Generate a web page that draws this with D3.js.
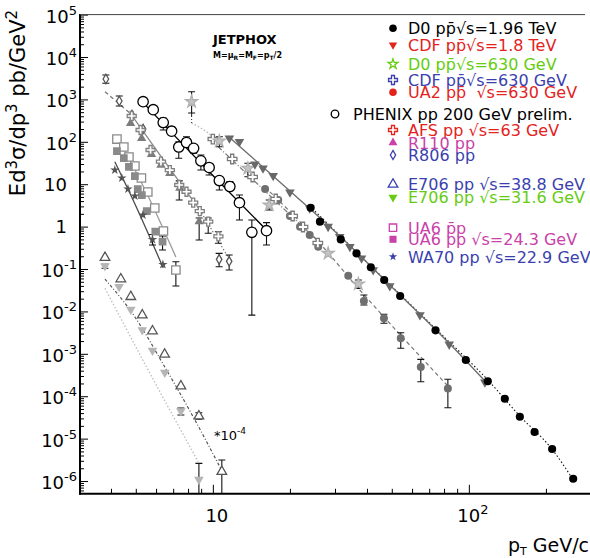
<!DOCTYPE html>
<html>
<head>
<meta charset="utf-8">
<script src="https://cdn.jsdelivr.net/npm/d3@7"></script>
<style>
  body { margin: 0; background: #fff; }
  svg { display: block; }
</style>
</head>
<body>
<svg id="chart" width="590" height="558"></svg>
<script>
// ---------- measured cross sections: pT in GeV/c, Ed3σ/dp3 in pb/GeV² ----------
const d0_1960_pt  = [24.1, 26.2, 31.6, 36.4, 41.4, 46.7, 53.9, 74.1, 97.3, 118.6, 138.2, 158.2, 180.6, 211.5, 255.6];
const d0_1960_val = [2.79, 1.31, 0.50, 0.234, 0.110, 0.055, 0.0231, 3.58e-3, 7.14e-4, 2.25e-4, 8.7e-5, 3.29e-5, 1.43e-5, 5.69e-6, 1.13e-6];

const cdf_1800_pt  = [11.6, 12.7, 14.6, 15.7, 17.2, 20.0, 23.9, 28.2, 31.3, 34.3, 38.1, 42.3, 49.1, 64.4, 83.8, 115.5];
const cdf_1800_val = [121, 100, 29.5, 23.7, 15.9, 6.44, 2.70, 1.0, 0.578, 0.336, 0.179, 0.0947, 0.0397, 8.22e-3, 1.67e-3, 2.13e-4];

const d0_630_pt    = [8.26, 10.6, 13.7, 16.6, 28.2, 37.0];
const d0_630_val   = [883, 104, 23.7, 3.23, 0.234, 0.0443];
const d0_630_lo    = [477, 76.6, 15.0, 2.47, null, 0.035];
const d0_630_hi    = [1520, 132, 31.1, 4.24, null, 0.055];

const cdf_630_pt   = [10.0, 11.9, 14.3, 17.6, 20.5, 22.5, 25.7];
const cdf_630_val  = [116, 39.3, 14.8, 4.48, 1.78, 0.98, 0.41];

const ua2_630_pt   = [16.0, 18.0, 20.0, 21.9, 23.9, 25.8, 33.8, 38.9, 46.6, 54.2, 64.9, 82.8];
const ua2_630_val  = [7.71, 4.24, 1.78, 0.995, 0.634, 0.336, 0.0695, 0.0176, 6.87e-3, 2.32e-3, 4.89e-4, 1.53e-4];
const ua2_630_lo   = [null, null, null, null, null, null, null, 0.0142, 5.27e-3, 1.35e-3, 2.20e-4, 5.36e-5];
const ua2_630_hi   = [null, null, null, null, null, null, null, 0.0244, 8.55e-3, 3.15e-3, 7.41e-4, 2.51e-4];

const phenix_pt    = [5.34, 5.85, 6.40, 6.90, 7.36, 7.89, 8.41, 8.98, 9.67, 10.6, 11.65, 12.7, 14.2, 16.2];
const phenix_val   = [883, 571, 285, 178, 75.4, 96.3, 70.3, 35.6, 24.8, 12.2, 8.83, 3.66, 0.734, 0.80];
const phenix_lo    = [null, null, 190, 145, 40.8, 76.6, 53.6, 21.6, 16.5, 7.3, 7.3, 1.43, 8.2e-3, 0.368];
const phenix_hi    = [null, null, 364, 227, 100, 132, 79.6, 48.9, 28.4, 15.0, 11.5, 5.56, 1.43, 1.24];

const afs_pt       = [4.82, 5.22, 5.71, 6.27, 6.79, 7.39, 7.89, 8.38, 8.89, 9.59, 10.51];
const afs_val      = [406, 190, 64.1, 34.0, 21.6, 9.57, 6.65, 3.66, 2.33, 1.31, 0.590];
const afs_lo       = [null, null, null, null, null, 4.24, null, null, null, 0.695, 0.404];
const afs_hi       = [null, null, null, null, null, 12, null, null, null, 1.6, 0.758];

const r110_pt      = [4.77, 5.27, 5.76, 6.27, 6.79, 7.43, 8.84];
const r110_val     = [273, 121, 50.7, 28.4, 18.1, 8.13, 1.31];
const r110_lo      = [null, null, null, null, null, null, 0.483];
const r110_hi      = [null, null, null, null, null, null, 1.60];

const r806_pt      = [3.82, 4.31, 4.83, 5.34, 10.58, 11.58];
const r806_val     = [3027, 916, 428, 200, 0.169, 0.152];
const r806_lo      = [2399, 699, null, null, 0.113, 0.0947];
const r806_hi      = [3763, 1202, null, null, 0.234, 0.214];

const ua6_pbarp_pt  = [4.22, 4.49, 4.70, 4.96, 5.26, 5.57, 5.93, 6.41, 7.17];
const ua6_pbarp_val = [116, 75.4, 43.8, 26.9, 14.0, 6.55, 2.75, 0.787, 0.0947];
const ua6_pbarp_lo  = [null, null, null, null, null, null, null, null, 0.0397];
const ua6_pbarp_hi  = [null, null, null, null, null, null, null, null, 0.149];

const ua6_pp_pt    = [4.22, 4.49, 4.70, 4.96, 5.09, 5.28, 5.52, 5.96, 6.36];
const ua6_pp_val   = [60.7, 41.5, 25.5, 15.6, 7.71, 5.56, 2.33, 0.766, 0.441];
const ua6_pp_lo    = [null, null, null, null, null, null, null, null, 0.28];
const ua6_pp_hi    = [null, null, null, null, null, null, null, null, 0.6];

const wa70_pt      = [4.14, 4.41, 4.66, 4.96, 5.33, 5.81, 6.38];
const wa70_val     = [21.6, 14.0, 7.71, 5.27, 1.88, 0.497, 0.128];
const wa70_lo      = [null, null, null, null, null, 0.368, null];
const wa70_hi      = [null, null, null, null, null, 0.65, null];

// E706 points are drawn scaled by 10^-4
const e706Scale    = 1e-4;
const e706_388_pt  = [3.79, 4.37, 4.78, 5.30, 5.81, 6.48, 7.50, 8.82, 10.84];
const e706_388_val = [1866, 581, 222, 82.2, 34.5, 9.73, 1.74, 0.341, 0.0167];
const e706_388_lo  = [null, null, null, null, null, null, null, 0.287, 0.0001];
const e706_388_hi  = [null, null, null, null, null, null, null, 0.408, 0.0313];

const e706_316_pt  = [3.79, 4.30, 4.78, 5.30, 5.81, 6.49, 7.50, 8.82];
const e706_316_val = [1178, 383, 111, 36.4, 12.0, 3.62, 0.448, 0.0108];
const e706_316_lo  = [1040, null, null, null, null, null, 0.36, 0.0001];
const e706_316_hi  = [1300, null, null, null, null, null, 0.527, 0.0261];

// ---------- JETPHOX NLO curves ----------
const th_d0_1960_pt   = [23.9, 41.4, 74.3, 118.6, 158.2, 211, 254.7];
const th_d0_1960_val  = [3.06, 0.118, 3.85e-3, 2.41e-4, 3.41e-5, 5.69e-6, 1.11e-6];
const th_cdf_1800_pt  = [11.45, 20.0, 31.3, 49.1, 83.6, 117.5];
const th_cdf_1800_val = [137, 6.92, 0.600, 0.042, 1.80e-3, 2.05e-4];
const th_d0_630a_pt   = [8.26, 8.26];
const th_d0_630a_val  = [477, 277];
const th_d0_630b_pt   = [8.26, 10.0, 10.46];
const th_d0_630b_val  = [277, 130, 98.9];
const th_cdf_630_pt   = [10.49, 25.7];
const th_cdf_630_val  = [76.6, 0.457];
const th_ua2_630_pt   = [15.96, 23.9, 37.5, 82.8];
const th_ua2_630_val  = [8.59, 0.746, 0.032, 1.74e-4];
const th_phenix_pt    = [5.3, 10, 16.3];
const th_phenix_val   = [880, 16, 0.8];
const th_r806_pt      = [3.79, 4.74];
const th_r806_val     = [1520, 477];
const th_afs_pt       = [4.74, 6.21, 8.89];
const th_afs_val      = [490, 48.9, 2.47];
const th_afs_tail_pt  = [8.89, 11.45];
const th_afs_tail_val = [2.47, 0.195];
const th_wa70_pt      = [4.14, 4.88, 6.40];
const th_wa70_val     = [34.0, 4.24, 0.106];
const th_ua6_pt       = [4.30, 5.51, 7.17];
const th_ua6_val      = [110, 6.2, 0.192];
const th_e706_388_pt  = [3.79, 4.96, 6.49, 8.51, 10.81];
const th_e706_388_val = [581, 73.8, 4.89, 0.275, 0.0182];
const th_e706_316_pt  = [3.79, 5.43, 8.76];
const th_e706_316_val = [351, 5.74, 0.0285];

// ---------- axis ticks and legend text ----------
const yTickExps  = [5, 4, 3, 2, 1, 0, -1, -2, -3, -4, -5, -6];
const xTickExps  = [1, 2];
const legendLabels = [
  "D0 pp\u0304\u221as=1.96 TeV",
  "CDF pp\u0304\u221as=1.8 TeV",
  "D0 pp\u0304\u221as=630 GeV",
  "CDF pp\u0304\u221as=630 GeV",
  "UA2 pp\u0304  \u221as=630 GeV",
  "PHENIX pp 200 GeV prelim.",
  "AFS pp \u221as=63 GeV",
  "R110 pp",
  "R806 pp",
  "E706 pp \u221as=38.8 GeV",
  "E706 pp \u221as=31.6 GeV",
  "UA6 p\u0304p",
  "UA6 pp \u221as=24.3 GeV",
  "WA70 pp \u221as=22.9 GeV"
];

// ---------- drawing ----------
const FONT = "DejaVu Sans, Verdana, sans-serif";
const RED = "#e3231c", GREEN = "#66cc11", BLUE = "#3b3fae", MAG = "#c942a8";

const svg = d3.select("#chart");
const x = d3.scaleLog().domain([3, 300]).range([79, 591]);
const y = d3.scaleLog().domain([5e-7, 1e5]).range([493.8, 14.6]);

svg.append("defs").append("clipPath").attr("id", "plotArea")
  .append("rect").attr("x", 80).attr("y", 14.6).attr("width", 511).attr("height", 479.2);
const plot = svg.append("g").attr("clip-path", "url(#plotArea)");

const zip = (pt, val, k = 1) => pt.map((p, i) => [p, val[i] * k]);

// NLO curves
const curves = [
  {d: zip(th_d0_1960_pt, th_d0_1960_val), c: "#111", w: 1.1, dash: "1.5,2.2"},
  {d: zip(th_cdf_1800_pt, th_cdf_1800_val), c: "#6f6f6f", w: 1.4, dash: null},
  {d: zip(th_d0_630a_pt, th_d0_630a_val), c: "#333", w: 1.1, dash: "4,2,1,2"},
  {d: zip(th_d0_630b_pt, th_d0_630b_val), c: "#b8b8b8", w: 1.3, dash: "1.5,2"},
  {d: zip(th_cdf_630_pt, th_cdf_630_val), c: "#7a7a7a", w: 1.2, dash: "5,2,1,2"},
  {d: zip(th_ua2_630_pt, th_ua2_630_val), c: "#7a7a7a", w: 1.2, dash: "4,3"},
  {d: zip(th_phenix_pt, th_phenix_val), c: "#000", w: 1.4, dash: null},
  {d: zip(th_r806_pt, th_r806_val), c: "#777", w: 1.3, dash: "4,3"},
  {d: zip(th_afs_pt, th_afs_val), c: "#8a8a8a", w: 1.3, dash: null},
  {d: zip(th_afs_tail_pt, th_afs_tail_val), c: "#777", w: 1.2, dash: "1.5,2"},
  {d: zip(th_wa70_pt, th_wa70_val), c: "#4a4a4a", w: 1.3, dash: null},
  {d: zip(th_ua6_pt, th_ua6_val), c: "#9a9a9a", w: 1.3, dash: null},
  {d: zip(th_e706_388_pt, th_e706_388_val, e706Scale), c: "#555", w: 1.2, dash: "3,2,1,2"},
  {d: zip(th_e706_316_pt, th_e706_316_val, e706Scale), c: "#bdbdbd", w: 1.3, dash: "1.5,2"}
];
const line = d3.line().x(d => x(d[0])).y(d => y(d[1])).curve(d3.curveMonotoneY);
const lineX = d3.line().x(d => x(d[0])).y(d => y(d[1])).curve(d3.curveMonotoneX);
curves.forEach(cv => {
  const vertical = cv.d.length === 2 && cv.d[0][0] === cv.d[1][0];
  plot.append("path")
    .attr("d", vertical ? line(cv.d) : lineX(cv.d))
    .attr("fill", "none").attr("stroke", cv.c).attr("stroke-width", cv.w)
    .attr("stroke-dasharray", cv.dash);
});

// data series
const shapes = {
  circle: d3.symbolCircle, triUp: d3.symbolTriangle, triDown: d3.symbolTriangle,
  star: d3.symbolStar, cross: d3.symbolCross, diamond: d3.symbolDiamond, square: d3.symbolSquare
};
const series = [
  {pt: e706_388_pt, val: e706_388_val, k: e706Scale, lo: e706_388_lo, hi: e706_388_hi, sym: "triUp", size: 40, fill: "#fff", stroke: "#555"},
  {pt: e706_316_pt, val: e706_316_val, k: e706Scale, lo: e706_316_lo, hi: e706_316_hi, sym: "triDown", size: 40, fill: "#b5b5b5", stroke: "none"},
  {pt: ua6_pbarp_pt, val: ua6_pbarp_val, lo: ua6_pbarp_lo, hi: ua6_pbarp_hi, sym: "square", size: 70, fill: "#fff", stroke: "#8a8a8a"},
  {pt: ua6_pp_pt, val: ua6_pp_val, lo: ua6_pp_lo, hi: ua6_pp_hi, sym: "square", size: 60, fill: "#8a8a8a", stroke: "none"},
  {pt: wa70_pt, val: wa70_val, lo: wa70_lo, hi: wa70_hi, sym: "star", size: 28, fill: "#555", stroke: "none"},
  {pt: r806_pt, val: r806_val, lo: r806_lo, hi: r806_hi, sym: "diamond", size: 26, fill: "#fff", stroke: "#555"},
  {pt: r110_pt, val: r110_val, lo: r110_lo, hi: r110_hi, sym: "triUp", size: 38, fill: "#7c7c7c", stroke: "none"},
  {pt: afs_pt, val: afs_val, lo: afs_lo, hi: afs_hi, sym: "cross", size: 45, fill: "#fff", stroke: "#808080"},
  {pt: phenix_pt, val: phenix_val, lo: phenix_lo, hi: phenix_hi, sym: "circle", size: 85, fill: "#fff", stroke: "#000"},
  {pt: ua2_630_pt, val: ua2_630_val, lo: ua2_630_lo, hi: ua2_630_hi, sym: "circle", size: 50, fill: "#6f6f6f", stroke: "none"},
  {pt: cdf_630_pt, val: cdf_630_val, sym: "cross", size: 50, fill: "#fff", stroke: "#7a7a7a"},
  {pt: d0_630_pt, val: d0_630_val, lo: d0_630_lo, hi: d0_630_hi, sym: "star", size: 45, fill: "#c4c4c4", stroke: "#b0b0b0"},
  {pt: cdf_1800_pt, val: cdf_1800_val, sym: "triDown", size: 40, fill: "#686868", stroke: "none"},
  {pt: d0_1960_pt, val: d0_1960_val, sym: "circle", size: 52, fill: "#000", stroke: "none"}
];

// error bars under the markers
const bars = plot.append("g").attr("stroke", "#111").attr("stroke-width", 1.1);
series.forEach(s => {
  if (!s.lo) return;
  const k = s.k || 1;
  s.pt.forEach((p, i) => {
    if (s.lo[i] == null) return;
    const px = x(p), y0 = y(s.lo[i] * k), y1 = y(s.hi[i] * k);
    bars.append("line").attr("x1", px).attr("x2", px).attr("y1", y0).attr("y2", y1);
    bars.append("line").attr("x1", px - 3.5).attr("x2", px + 3.5).attr("y1", y0).attr("y2", y0);
    bars.append("line").attr("x1", px - 3.5).attr("x2", px + 3.5).attr("y1", y1).attr("y2", y1);
  });
});

function symbolPath(sym, size) {
  return d3.symbol().type(shapes[sym]).size(size)();
}
series.forEach(s => {
  const k = s.k || 1;
  plot.append("g").selectAll("path")
    .data(s.pt.map((p, i) => [p, s.val[i] * k]))
    .join("path")
    .attr("d", symbolPath(s.sym, s.size))
    .attr("transform", d => `translate(${x(d[0])},${y(d[1])})` + (s.sym === "triDown" ? " rotate(180)" : ""))
    .attr("fill", s.fill)
    .attr("stroke", s.stroke)
    .attr("stroke-width", 1.3);
});

// ---------- axes ----------
const yMajor = yTickExps.map(e => Math.pow(10, e));
const yMinor = [];
for (let e = -7; e < 5; e++) for (let m = 2; m <= 9; m++) {
  const v = m * Math.pow(10, e);
  if (v > 5e-7 && v < 1e5) yMinor.push(v);
}
const xMajor = xTickExps.map(e => Math.pow(10, e));
const xMinor = [4, 5, 6, 7, 8, 9, 20, 30, 40, 50, 60, 70, 80, 90, 200];

const styleAxis = g => {
  g.select(".domain").remove();
  g.selectAll(".tick line").attr("stroke", "#000").attr("stroke-width", 1);
};
svg.append("g").attr("transform", "translate(80,0)")
  .call(d3.axisRight(y).tickValues(yMinor).tickSize(4).tickFormat("")).call(styleAxis);
svg.append("g").attr("transform", "translate(80,0)")
  .call(d3.axisRight(y).tickValues(yMajor).tickSize(8).tickFormat("")).call(styleAxis);
svg.append("g").attr("transform", "translate(0,493.8)")
  .call(d3.axisTop(x).tickValues(xMinor).tickSize(5).tickFormat("")).call(styleAxis);
svg.append("g").attr("transform", "translate(0,493.8)")
  .call(d3.axisTop(x).tickValues(xMajor).tickSize(9).tickFormat("")).call(styleAxis);

svg.append("line").attr("x1", 80).attr("x2", 80).attr("y1", 14).attr("y2", 494.8)
  .attr("stroke", "#000").attr("stroke-width", 2);
svg.append("line").attr("x1", 79).attr("x2", 590).attr("y1", 493.8).attr("y2", 493.8)
  .attr("stroke", "#000").attr("stroke-width", 2);
svg.append("line").attr("x1", 80).attr("x2", 585).attr("y1", 14.6).attr("y2", 14.6)
  .attr("stroke", "#444").attr("stroke-width", 1);

// y tick labels
const yLab = svg.append("g").attr("font-family", FONT).attr("font-size", 18).attr("fill", "#000");
yTickExps.forEach(e => {
  const ty = y(Math.pow(10, e));
  if (e === 0 || e === 1) {
    yLab.append("text").attr("x", 67).attr("y", ty + 6.5).attr("text-anchor", "end")
      .text(e === 0 ? "1" : "10");
  } else {
    const t = yLab.append("text").attr("x", 77).attr("y", ty + 8).attr("text-anchor", "end");
    t.append("tspan").text("10");
    t.append("tspan").attr("dy", -8).attr("font-size", 13).text(String(e));
  }
});

// x tick labels
const xLab = svg.append("g").attr("font-family", FONT).attr("font-size", 18).attr("fill", "#000");
xTickExps.forEach(e => {
  const t = xLab.append("text").attr("x", x(Math.pow(10, e)) + 4).attr("y", 522).attr("text-anchor", "middle");
  t.append("tspan").text("10");
  if (e !== 1) t.append("tspan").attr("dy", -8).attr("font-size", 13).text(String(e));
});

// axis titles
const yTitle = svg.append("text").attr("font-family", FONT).attr("font-size", 21)
  .attr("transform", "translate(25,103) rotate(-90)").attr("text-anchor", "middle");
yTitle.append("tspan").text("Ed");
yTitle.append("tspan").attr("dy", -8).attr("font-size", 15).text("3");
yTitle.append("tspan").attr("dy", 8).text("\u03c3/dp");
yTitle.append("tspan").attr("dy", -8).attr("font-size", 15).text("3");
yTitle.append("tspan").attr("dy", 8).text(" pb/GeV");
yTitle.append("tspan").attr("dy", -8).attr("font-size", 15).text("2");

const xTitle = svg.append("text").attr("font-family", FONT).attr("font-size", 19)
  .attr("x", 589).attr("y", 552).attr("text-anchor", "end");
xTitle.append("tspan").text("p");
xTitle.append("tspan").attr("dy", 3).attr("font-size", 11).text("T");
xTitle.append("tspan").attr("dy", -3).text(" GeV/c");

// annotation texts
svg.append("text").attr("font-family", FONT).attr("font-size", 13).attr("font-weight", "bold")
  .attr("x", 213).attr("y", 43.5).text("JETPHOX");
const scaleText = svg.append("text").attr("font-family", FONT).attr("font-size", 8).attr("font-weight", "bold")
  .attr("x", 213).attr("y", 58);
scaleText.append("tspan").text("M=\u03bc");
scaleText.append("tspan").attr("dy", 2).attr("font-size", 6).text("R");
scaleText.append("tspan").attr("dy", -2).text("=M");
scaleText.append("tspan").attr("dy", 2).attr("font-size", 6).text("F");
scaleText.append("tspan").attr("dy", -2).text("=p");
scaleText.append("tspan").attr("dy", 2).attr("font-size", 6).text("T");
scaleText.append("tspan").attr("dy", -2).text("/2");

const e706Note = svg.append("text").attr("font-family", FONT).attr("font-size", 13)
  .attr("x", 214).attr("y", 440);
e706Note.append("tspan").text("*10");
e706Note.append("tspan").attr("dy", -6).attr("font-size", 9).text("-4");

// ---------- legend ----------
const legendRowY = [28.3, 45, 64, 80, 92.3, 114, 130, 142.7, 155, 184.3, 197.3, 227.7, 239.3, 256.7];
const legendStyle = [
  {sym: "circle", size: 45, fill: "#000", stroke: "none", c: "#000"},
  {sym: "triDown", size: 30, fill: RED, stroke: "none", c: RED},
  {sym: "star", size: 30, fill: "#fff", stroke: GREEN, c: GREEN},
  {sym: "cross", size: 45, fill: "#fff", stroke: BLUE, c: BLUE},
  {sym: "circle", size: 45, fill: RED, stroke: "none", c: RED},
  {sym: "circle", size: 45, fill: "#fff", stroke: "#000", c: "#000"},
  {sym: "cross", size: 45, fill: "#fff", stroke: RED, c: RED},
  {sym: "triUp", size: 35, fill: MAG, stroke: "none", c: MAG},
  {sym: "diamond", size: 24, fill: "#fff", stroke: BLUE, c: BLUE},
  {sym: "triUp", size: 40, fill: "#fff", stroke: BLUE, c: BLUE},
  {sym: "triDown", size: 35, fill: GREEN, stroke: "none", c: GREEN},
  {sym: "square", size: 55, fill: "#fff", stroke: MAG, c: MAG},
  {sym: "square", size: 50, fill: MAG, stroke: "none", c: MAG},
  {sym: "star", size: 22, fill: BLUE, stroke: "none", c: BLUE}
];
const legend = svg.append("g").attr("font-family", FONT).attr("font-size", 16);
legendLabels.forEach((lab, i) => {
  const st = legendStyle[i], ly = legendRowY[i];
  const mx = i === 5 ? 335 : 393, tx = i === 5 ? 353 : 408;
  legend.append("path")
    .attr("d", symbolPath(st.sym, st.size))
    .attr("transform", `translate(${mx},${ly})` + (st.sym === "triDown" ? " rotate(180)" : ""))
    .attr("fill", st.fill).attr("stroke", st.stroke).attr("stroke-width", 1.3);
  legend.append("text").attr("x", tx).attr("y", ly + 5.8).attr("fill", st.c)
    .style("white-space", "pre").text(lab);
});
</script>
</body>
</html>
